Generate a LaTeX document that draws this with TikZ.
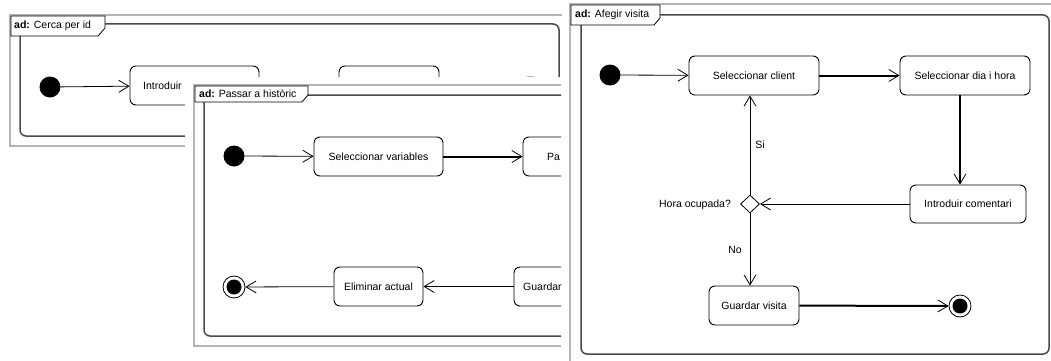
\documentclass[tikz,border=0pt]{standalone}
\usepackage{fontspec}
\setmainfont{Liberation Sans}
\usetikzlibrary{arrows.meta,shapes.geometric}
\definecolor{wingray}{HTML}{B4B4B4}
\definecolor{framec}{HTML}{4A4A4A}
\begin{document}
\begin{tikzpicture}[x=1pt,y=-1pt,
  font=\fontsize{10.5}{12}\selectfont,
  act/.style={draw=black, line width=0.9pt, rounded corners=6pt, fill=white,
              minimum height=39pt, inner sep=0pt},
  initst/.style={circle, fill=black, minimum size=21pt, inner sep=0pt},
  finst/.style={circle, draw=black, line width=0.8pt, fill=white, minimum size=22pt, inner sep=0pt,
                path picture={\fill[black] (path picture bounding box.center) circle[radius=7.5pt];}},
  decst/.style={diamond, draw=black, line width=0.8pt, fill=white, minimum width=19pt, minimum height=18pt, inner sep=0pt},
  thinflow/.style={draw=black, line width=0.8pt, -{Straight Barb[length=10pt,width=12pt,line width=0.8pt]}},
  thickflow/.style={draw=black, line width=2pt, -{Straight Barb[length=10pt,width=12pt,line width=0.8pt]}},
  winborder/.style={draw=wingray, line width=1.5pt},
  frameline/.style={draw=framec, line width=1.5pt, rounded corners=6pt},
  tagline/.style={draw=black, line width=0.8pt, fill=white},
  lbl/.style={inner sep=0pt, anchor=west}
]
\useasboundingbox (0,0) rectangle (1051,361);
\clip (0,0) rectangle (1051,361);
\fill[white] (0,0) rectangle (1051,361);

% ---------------- Left panel: Cerca per id ----------------
\draw[winborder] (10,15) rectangle (600,146);
\draw[frameline] (20,24) rectangle (559,136);
\path[tagline] (11,16) -- (105,16) -- (105,28) -- (98,36) -- (11,36) -- cycle;
\node[lbl] (tagA) at (14,26) {\textbf{ad:} Cerca per id};
\node[initst] (iniA) at (50,87) {};
\node[act, minimum width=129pt] (introA) at (194.5,85.5) {};
\node[lbl] (introAtxt) at (143,85.5) {Introduir};
\draw[thinflow] (iniA) -- (introA);
\node[act, minimum width=100pt] (nodeA2) at (389,85.5) {};
\draw[wingray, line width=0.8pt] (527,76) -- (534,76);

% ---------------- Middle panel: Passar a historic ----------------
\fill[white] (185,77) rectangle (562,361);
\begin{scope}
\clip (185,77) rectangle (561,361);
\draw[winborder] (194,85) rectangle (620,346);
\draw[frameline] (204,95) rectangle (640,336);
\path[tagline] (195,86) -- (308,86) -- (308,95) -- (302,102) -- (195,102) -- cycle;
\node[lbl] (tagB) at (199,94) {\textbf{ad:} Passar a històric};
\node[initst] (iniB) at (234,156) {};
\node[act, minimum width=129pt] (selvar) at (378.5,156.5) {Seleccionar variables};
\node[act, minimum width=129pt] (pasB) at (587.5,156.5) {};
\node[lbl] (pasBtxt) at (547,156.5) {Pa};
\node[act, minimum width=129pt] (guaB) at (578.5,286.5) {};
\node[lbl] (guaBtxt) at (523,286.5) {Guardar};
\node[act, minimum width=89pt] (elim) at (378.5,286.5) {Eliminar actual};
\node[finst] (finB) at (234,287) {};
\draw[thinflow] (iniB) -- (selvar);
\draw[thickflow] (selvar) -- (pasB);
\draw[thinflow] (guaB) -- (elim);
\draw[thinflow] (elim) -- (finB);
\end{scope}

% ---------------- Right panel: Afegir visita ----------------
\fill[white] (562,0) rectangle (1051,361);
\draw[winborder] (570,4) rectangle (1100,400);
\draw[frameline] (581,15) rectangle (1049,354);
\path[tagline] (571,5) -- (660,5) -- (660,18) -- (654,25) -- (571,25) -- cycle;
\node[lbl] (tagC) at (575,15) {\textbf{ad:} Afegir visita};
\node[initst] (iniC) at (610,75) {};
\node[act, minimum width=130pt] (selcli) at (754,75.5) {Seleccionar client};
\node[act, minimum width=130pt] (seldia) at (965,75.5) {Seleccionar dia i hora};
\node[act, minimum width=116pt, minimum height=38pt] (intcom) at (968,204) {Introduir comentari};
\node[decst, label={[inner sep=0pt, anchor=east, xshift=-9pt, yshift=-1pt]west:Hora ocupada?}] (dec) at (750,204) {};
\node[act, minimum width=90pt] (guavis) at (754,305.5) {Guardar visita};
\node[finst] (finC) at (960,306) {};
\draw[thinflow] (iniC) -- (selcli);
\draw[thickflow] (selcli) -- (seldia);
\draw[thickflow] (seldia.south -| finC) -- (intcom.north -| finC);
\draw[thinflow] (intcom) -- (dec);
\draw[thinflow] (dec.north) -- (selcli.south -| dec) node[lbl, pos=0.5, xshift=5pt] (si) {Si};
\draw[thinflow] (dec.south) -- (guavis.north -| dec) node[lbl, pos=0.5, xshift=-22pt] (no) {No};
\draw[thickflow] (guavis) -- (finC);
\end{tikzpicture}
\end{document}
